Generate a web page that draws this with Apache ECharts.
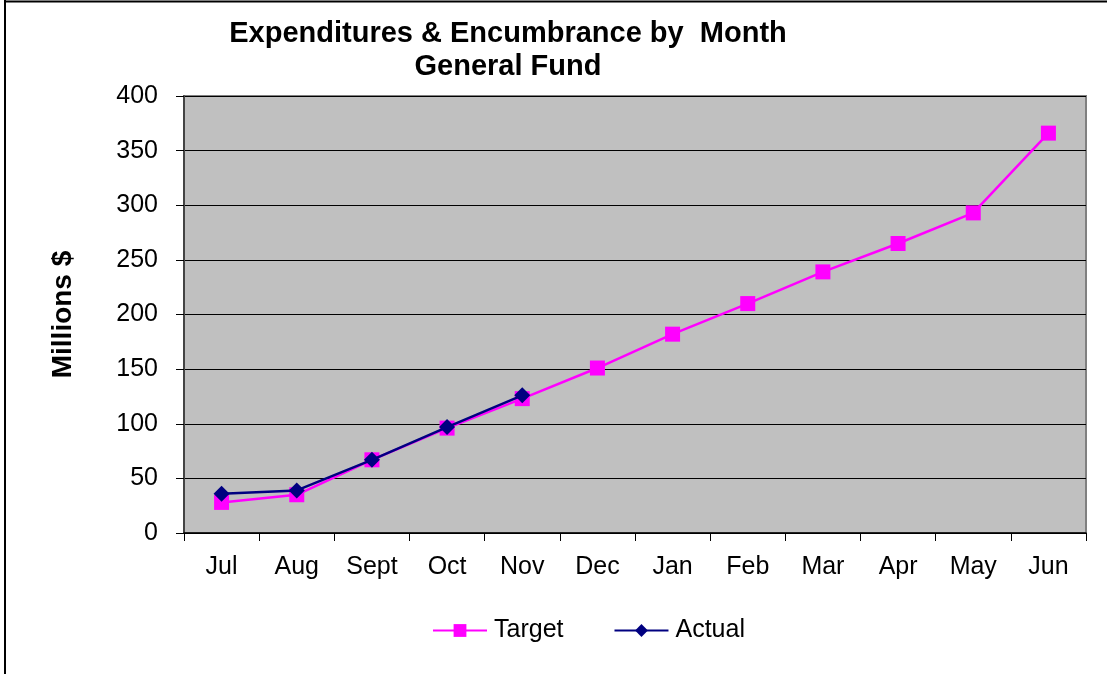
<!DOCTYPE html>
<html><head><meta charset="utf-8">
<script src="https://cdn.jsdelivr.net/npm/echarts@6/dist/echarts.min.js"></script>
<style>html,body{margin:0;padding:0;background:#fff}#c{width:1107px;height:674px}</style>
</head><body><div id="c"></div>
<script>
const categories = ['Jul','Aug','Sept','Oct','Nov','Dec','Jan','Feb','Mar','Apr','May','Jun'];
const targetValues = [28, 35, 67, 96, 123, 151, 182, 210, 239, 265, 293, 366];
const actualValues = [36, 39, 67, 97, 126, null, null, null, null, null, null, null];
const yTicks = [0, 50, 100, 150, 200, 250, 300, 350, 400];

const chart = echarts.init(document.getElementById('c'), null, {renderer: 'canvas'});
const font = 'Arial, "Liberation Sans", sans-serif';
chart.setOption({
  animation: false,
  backgroundColor: '#fff',
  title: {
    text: 'Expenditures & Encumbrance by  Month\nGeneral Fund',
    left: 503, top: 12, textAlign: 'center',
    textStyle: {fontFamily: font, fontWeight: 'bold', fontSize: 29, lineHeight: 33, color: '#000'}
  },
  legend: {
    top: 613, left: 427, itemGap: 50, itemWidth: 54, itemHeight: 16,
    textStyle: {fontFamily: font, fontSize: 25, color: '#000', padding: [0,0,0,2]},
    data: ['Target', 'Actual']
  },
  graphic: [
    {type: 'line', shape: {x1: 5, y1: 0, x2: 5, y2: 674}, style: {stroke: '#000', lineWidth: 2}},
    {type: 'line', shape: {x1: 5, y1: 1.5, x2: 1107, y2: 1.5}, style: {stroke: '#000', lineWidth: 2}}
  ],
  grid: {left: 184, right: 21, top: 96, bottom: 141, show: true, backgroundColor: '#C0C0C0', borderColor: '#808080', borderWidth: 2},
  xAxis: {
    type: 'category', data: categories, boundaryGap: true,
    axisLine: {lineStyle: {color: '#000', width: 1.5}},
    axisTick: {show: true, inside: false, length: 8, lineStyle: {color: '#000'}},
    axisLabel: {fontFamily: font, fontSize: 25, color: '#000', margin: 22}
  },
  yAxis: {
    type: 'value', min: 0, max: 400, interval: 50,
    name: 'Millions $', nameLocation: 'middle', nameGap: 107, nameRotate: 90,
    nameTextStyle: {fontFamily: font, fontWeight: 'bold', fontSize: 28, color: '#000'},
    axisLine: {show: true, lineStyle: {color: '#444', width: 2}},
    axisTick: {show: true, length: 8, lineStyle: {color: '#000'}},
    axisLabel: {fontFamily: font, fontSize: 25, color: '#000', margin: 26,
      formatter: v => yTicks.includes(v) ? String(v) : ''},
    splitLine: {show: true, lineStyle: {color: '#000', width: 1.2}}
  },
  series: [
    {name: 'Target', type: 'line', data: targetValues, symbol: 'rect', symbolSize: 15,
     itemStyle: {color: '#FF00FF'}, lineStyle: {color: '#FF00FF', width: 2.5}, z: 2},
    {name: 'Actual', type: 'line', data: actualValues, symbol: 'diamond', symbolSize: 16,
     itemStyle: {color: '#000080'}, lineStyle: {color: '#000080', width: 2.5}, z: 3}
  ]
});
</script></body></html>
